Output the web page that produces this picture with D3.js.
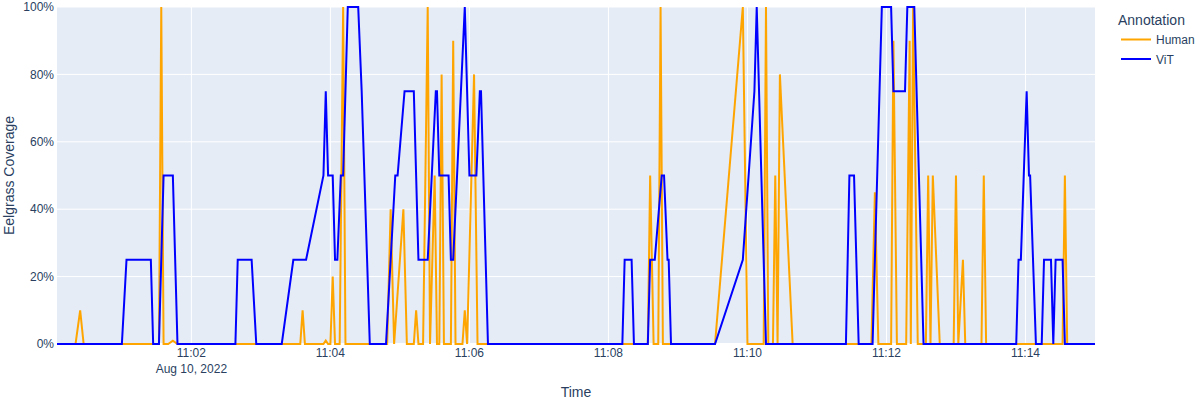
<!DOCTYPE html>
<html><head><meta charset="utf-8">
<script src="https://cdn.jsdelivr.net/npm/d3@7"></script>
<style>
body{margin:0;background:#fff}
text{font-family:"Liberation Sans",Arial,sans-serif;fill:#2a3f5f}
</style>
</head><body>
<svg id="chart" width="1200" height="400"></svg>
<script>
const dateStr = "2022-08-10";
const seriesNames = ["Human", "ViT"];
const seriesColors = ["orange", "blue"];
const yTickValues = [0, 20, 40, 60, 80, 100];
const xTitle = "Time";
const yTitle = "Eelgrass Coverage";
const legendTitle = "Annotation";

const humanTimes = ["11:00:04","11:00:20","11:00:24","11:00:27","11:01:32","11:01:34","11:01:36","11:01:40","11:01:44","11:01:48",
"11:03:34","11:03:36","11:03:38","11:03:54","11:03:56","11:03:58","11:04:00","11:04:02","11:04:04","11:04:08","11:04:11","11:04:13",
"11:04:49","11:04:52","11:04:55","11:05:03","11:05:06","11:05:12","11:05:14","11:05:16","11:05:20","11:05:24","11:05:26","11:05:30",
"11:05:32","11:05:34","11:05:36","11:05:38","11:05:44","11:05:46","11:05:48","11:05:54","11:05:56","11:05:58","11:06:04","11:06:07",
"11:08:34","11:08:36","11:08:39","11:08:43","11:08:45","11:08:47","11:09:32","11:09:56","11:10:00","11:10:14","11:10:16","11:10:18",
"11:10:22","11:10:24","11:10:26","11:10:28","11:10:39","11:11:47","11:11:50","11:11:53","11:12:04","11:12:06","11:12:09","11:12:17",
"11:12:20","11:12:21","11:12:23","11:12:27","11:12:34","11:12:36","11:12:38","11:12:40","11:12:46","11:12:58","11:13:00","11:13:02",
"11:13:06","11:13:08","11:13:22","11:13:24","11:13:26","11:14:32","11:14:34","11:14:36","11:15:00"];
const humanValues = [0,0,10,0,0,100,0,0,1,0,
0,10,0,0,1,0,0,20,0,0,100,0,
0,40,0,40,0,0,10,0,0,100,0,50,
0,0,80,0,0,90,0,0,10,0,80,0,
0,50,0,0,100,0,0,100,0,0,100,0,
0,50,0,80,0,0,45,0,0,90,0,0,
90,0,100,0,0,50,0,50,0,0,50,0,
25,0,0,50,0,0,50,0,0];

const vitTimes = ["11:00:04","11:01:00","11:01:04","11:01:25","11:01:27","11:01:32","11:01:36","11:01:44","11:01:48",
"11:02:38","11:02:40","11:02:52","11:02:56","11:03:18","11:03:28","11:03:39","11:03:54","11:03:56","11:03:58","11:04:02",
"11:04:04","11:04:06","11:04:09","11:04:11","11:04:15","11:04:24","11:04:27","11:04:34","11:04:48","11:04:56","11:04:58",
"11:05:04","11:05:12","11:05:16","11:05:24","11:05:31","11:05:32","11:05:34","11:05:42","11:05:44","11:05:46","11:05:56",
"11:06:00","11:06:06","11:06:09","11:06:10","11:06:16","11:08:12","11:08:14","11:08:20","11:08:22","11:08:34","11:08:36",
"11:08:40","11:08:46","11:08:48","11:08:51","11:08:52","11:08:54","11:09:32","11:09:56","11:10:06","11:10:08","11:10:16",
"11:11:25","11:11:28","11:11:32","11:11:36","11:11:48","11:11:56","11:12:04","11:12:06","11:12:16","11:12:18","11:12:24",
"11:12:32","11:13:52","11:13:54","11:13:56","11:14:01","11:14:03","11:14:04","11:14:09","11:14:14","11:14:16","11:14:22",
"11:14:24","11:14:26","11:14:32","11:14:34","11:15:00"];
const vitValues = [0,0,25,25,0,0,50,50,0,
0,25,25,0,0,25,25,50,75,50,50,
25,25,50,50,100,100,75,0,0,50,50,
75,75,25,25,75,75,50,50,25,25,100,
50,50,75,75,0,0,25,25,0,0,25,
25,50,50,25,25,0,0,25,75,100,0,
0,50,50,0,0,100,100,75,75,100,100,
0,0,25,25,75,50,50,0,0,25,25,
0,25,25,0,0];

const parse = d3.timeParse("%Y-%m-%d %H:%M:%S");
const series = [
  {name: seriesNames[0], color: seriesColors[0], pts: humanTimes.map((t, i) => ({t: parse(dateStr + " " + t), v: humanValues[i]}))},
  {name: seriesNames[1], color: seriesColors[1], pts: vitTimes.map((t, i) => ({t: parse(dateStr + " " + t), v: vitValues[i]}))}
];

const L = 57, R = 1095, T = 7, B = 344;
const svg = d3.select("#chart");
const allT = series.flatMap(s => s.pts.map(p => p.t));
const x = d3.scaleTime().domain(d3.extent(allT)).range([L, R]);
const y = d3.scaleLinear().domain([0, 100]).range([B, T]);

svg.append("rect").attr("x", L).attr("y", T).attr("width", R - L).attr("height", B - T).attr("fill", "#E5ECF6");

const xTicks = x.ticks(d3.timeMinute.every(2));
svg.append("g").selectAll("line").data(xTicks).join("line")
  .attr("x1", d => x(d)).attr("x2", d => x(d)).attr("y1", T).attr("y2", B)
  .attr("stroke", "#fff").attr("stroke-width", 1);
svg.append("g").selectAll("line").data(yTickValues).join("line")
  .attr("x1", L).attr("x2", R).attr("y1", d => y(d)).attr("y2", d => y(d))
  .attr("stroke", "#fff").attr("stroke-width", d => d === 0 ? 2 : 1);

// y tick labels
svg.append("g").selectAll("text").data(yTickValues).join("text")
  .attr("x", 54).attr("y", d => y(d)).attr("dy", "0.35em")
  .attr("text-anchor", "end").attr("font-size", 12).text(d => d + "%");

// x tick labels
const fmtT = d3.timeFormat("%H:%M"), fmtD = d3.timeFormat("%b %-d, %Y");
const xl = svg.append("g").selectAll("text").data(xTicks).join("text")
  .attr("x", d => x(d)).attr("y", 357).attr("text-anchor", "middle").attr("font-size", 12);
xl.append("tspan").attr("x", d => x(d)).text(d => fmtT(d));
xl.filter((d, i) => i === 0).append("tspan").attr("x", d => x(d)).attr("dy", 16).text(d => fmtD(d));

svg.append("text").attr("x", (L + R) / 2).attr("y", 397).attr("text-anchor", "middle").attr("font-size", 14).text(xTitle);
svg.append("text").attr("transform", `translate(14,${(T + B) / 2}) rotate(-90)`).attr("text-anchor", "middle").attr("font-size", 14).text(yTitle);

const line = d3.line().x(d => x(d.t)).y(d => y(d.v));
svg.append("g").selectAll("path").data(series).join("path")
  .attr("d", d => line(d.pts)).attr("fill", "none")
  .attr("stroke", d => d.color).attr("stroke-width", 2);

// legend
svg.append("text").attr("x", 1118).attr("y", 25).attr("font-size", 14).text(legendTitle);
const lg = svg.append("g").selectAll("g").data(series).join("g")
  .attr("transform", (d, i) => `translate(1121,${39.5 + i * 19.5})`);
lg.append("line").attr("x1", 0).attr("x2", 30).attr("stroke", d => d.color).attr("stroke-width", 2);
lg.append("text").attr("x", 35).attr("y", 4.5).attr("font-size", 12).text(d => d.name);
</script>
</body></html>
